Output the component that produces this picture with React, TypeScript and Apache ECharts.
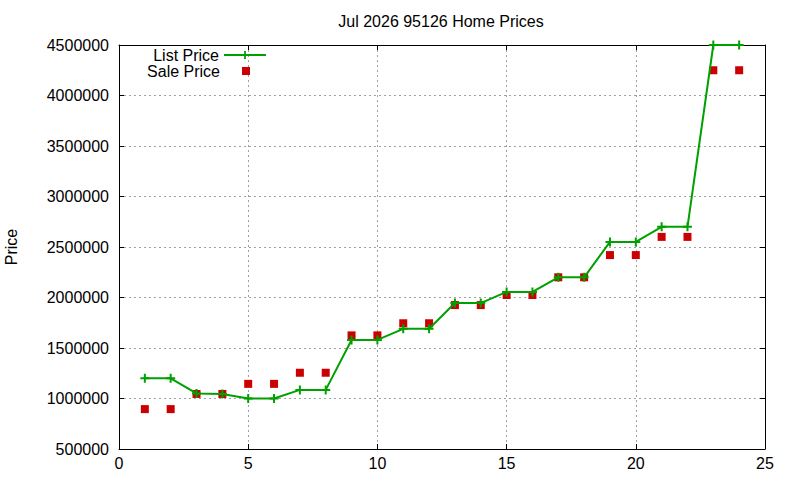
import React, { useEffect, useRef } from 'react';
import * as echarts from 'echarts';

const FONT = '"Liberation Sans", Arial, sans-serif';
const GREEN = '#00a000';
const RED = '#cc0000';

const TITLE = 'Jul 2026 95126 Home Prices';
const Y_NAME = 'Price';

const months = [1, 2, 3, 4, 5, 6, 7, 8, 9, 10, 11, 12, 13, 14, 15, 16, 17, 18, 19, 20, 21, 22, 23, 24];
const listPrices = [
  1200000, 1200000, 1050000, 1045000, 1000000, 1000000, 1085000, 1085000, 1580000, 1580000, 1690000, 1690000,
  1945000, 1945000, 2055000, 2055000, 2200000, 2200000, 2550000, 2550000, 2700000, 2700000, 4500000, 4500000,
];
const salePrices = [
  895000, 895000, 1045000, 1045000, 1145000, 1145000, 1255000, 1255000, 1625000, 1625000, 1745000, 1745000,
  1925000, 1925000, 2025000, 2025000, 2200000, 2200000, 2420000, 2420000, 2600000, 2600000, 4250000, 4250000,
];

const X_MIN = 0;
const X_MAX = 25;
const X_STEP = 5;
const Y_MIN = 500000;
const Y_MAX = 4500000;
const Y_STEP = 500000;

// filled cross, so that it needs no stroke
const PLUS = 'path://M3.5,0h2v3.5h3.5v2h-3.5v3.5h-2v-3.5h-3.5v-2h3.5z';
const SQUARE = 'path://M0,0h10v10h-10z';

const axisLine = { show: true, onZero: false, lineStyle: { color: '#000', width: 1 } };
const axisTick = { show: true, inside: true, length: 5, lineStyle: { color: '#000', width: 1 } };
const grid = { show: true, lineStyle: { color: '#a0a0a0', width: 1, type: [2, 3] as number[] } };

export default function App() {
  const elRef = useRef<HTMLDivElement | null>(null);

  useEffect(() => {
    if (!elRef.current) return;
    const chart = echarts.init(elRef.current, undefined, { renderer: 'svg' });

    const legendText = { fontFamily: FONT, fontSize: 16, color: '#000' };

    const opt: any = {
      animation: false,
      backgroundColor: '#fff',
      textStyle: { fontFamily: FONT, fontSize: 16, color: '#000' },
      title: {
        text: TITLE,
        left: 441,
        top: 13,
        padding: 0,
        textAlign: 'center',
        textStyle: { fontFamily: FONT, fontSize: 16, fontWeight: 'normal', color: '#000' },
      },
      grid: { left: 119, right: 35, top: 45, bottom: 31, containLabel: false, outerBoundsMode: 'none' },
      legend: [
        {
          data: ['List Price'],
          right: 533,
          top: 47,
          padding: 0,
          align: 'right',
          itemWidth: 42,
          itemHeight: 10,
          selectedMode: false,
          textStyle: legendText,
        },
        {
          // the box ends at the square itself, so place it by the square's right edge
          data: [{ name: 'Sale Price', icon: SQUARE }],
          right: 550,
          top: 63,
          padding: 0,
          align: 'right',
          itemWidth: 42,
          itemHeight: 8,
          selectedMode: false,
          textStyle: legendText,
        },
      ],
      xAxis: [
        {
          type: 'value',
          position: 'bottom',
          min: X_MIN,
          max: X_MAX,
          interval: X_STEP,
          axisLine,
          axisTick,
          axisLabel: { color: '#000', fontSize: 16, fontFamily: FONT, margin: 6 },
          splitLine: grid,
        },
        {
          type: 'value',
          position: 'top',
          min: X_MIN,
          max: X_MAX,
          interval: X_STEP,
          axisLine,
          axisTick,
          axisLabel: { show: false },
          splitLine: { show: false },
        },
      ],
      yAxis: [
        {
          type: 'value',
          position: 'left',
          min: Y_MIN,
          max: Y_MAX,
          interval: Y_STEP,
          name: Y_NAME,
          nameLocation: 'middle',
          nameRotate: 90,
          nameGap: 100,
          nameTextStyle: { color: '#000', fontSize: 16, fontFamily: FONT },
          axisLine,
          axisTick,
          axisLabel: {
            color: '#000',
            fontSize: 16,
            fontFamily: FONT,
            margin: 10,
            formatter: (v: number) => String(Math.round(v)),
          },
          splitLine: grid,
        },
        {
          type: 'value',
          position: 'right',
          min: Y_MIN,
          max: Y_MAX,
          interval: Y_STEP,
          axisLine,
          axisTick,
          axisLabel: { show: false },
          splitLine: { show: false },
        },
      ],
      series: [
        {
          name: 'List Price',
          type: 'line',
          data: months.map((m, i) => [m, listPrices[i]]),
          symbol: PLUS,
          symbolSize: 9,
          showAllSymbol: true,
          clip: false,
          lineStyle: { color: GREEN, width: 2 },
          itemStyle: { color: GREEN, opacity: 1 },
        },
        {
          name: 'Sale Price',
          type: 'scatter',
          data: months.map((m, i) => [m, salePrices[i]]),
          symbol: 'rect',
          symbolSize: 8,
          clip: false,
          itemStyle: { color: RED, opacity: 1 },
        },
      ],
    };

    chart.setOption(opt, true);
    return () => chart.dispose();
  }, []);

  return (
    <div
      ref={elRef}
      style={{ position: 'absolute', left: 0, top: 0, width: 800, height: 480, background: '#fff' }}
    />
  );
}
